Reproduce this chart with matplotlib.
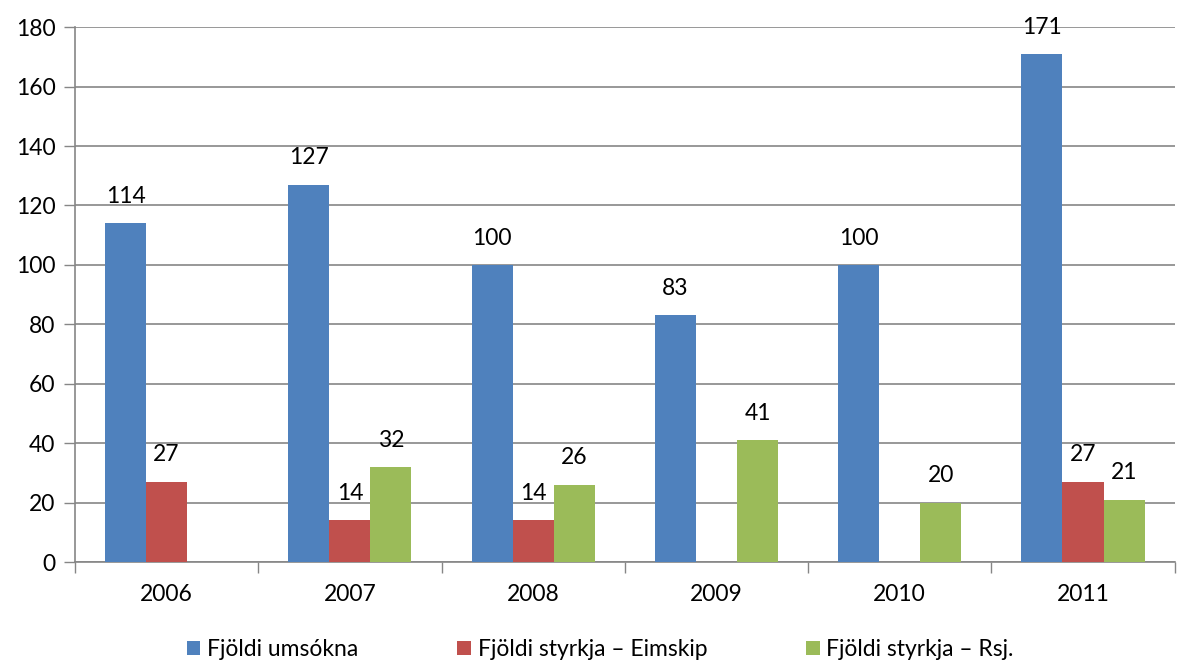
import matplotlib.pyplot as plt
import numpy as np

years = ["2006", "2007", "2008", "2009", "2010", "2011"]
umsokna = [114, 127, 100, 83, 100, 171]
eimskip = [27, 14, 14, None, None, 27]
rsj = [None, 32, 26, 41, 20, 21]

series = [
    ("Fjöldi umsókna", umsokna, "#4F81BD"),
    ("Fjöldi styrkja – Eimskip", eimskip, "#C0504D"),
    ("Fjöldi styrkja – Rsj.", rsj, "#9BBB59"),
]

plt.rcParams['font.family'] = ['Lato', 'DejaVu Sans']
fs = 16.5

fig = plt.figure(figsize=(11.77, 6.64), dpi=100)
ax = fig.add_axes([0.0637, 0.1536, 0.9343, 0.8054])

x = np.arange(len(years))
w = 0.224
for i, (name, vals, color) in enumerate(series):
    xs = [xi + (i - 1) * w for xi, v in zip(x, vals) if v is not None]
    vs = [v for v in vals if v is not None]
    bars = ax.bar(xs, vs, width=w, color=color, label=name, zorder=3)
    for b, v in zip(bars, vs):
        ax.text(b.get_x() + b.get_width() / 2, v + 5.5, str(v),
                ha='center', va='bottom', fontsize=fs, zorder=4)

ax.set_xlim(-0.5, len(years) - 0.5)
ax.set_ylim(0, 180)
ax.set_yticks(range(0, 181, 20))
ax.set_xticks(x)
ax.set_xticklabels(years)
ax.set_xticks(np.arange(-0.5, len(years)), minor=True)
ax.tick_params(axis='x', which='major', length=0, pad=16, labelsize=fs)
ax.tick_params(axis='x', which='minor', length=8, color='#868686', width=1)
ax.tick_params(axis='y', length=8, color='#868686', width=1, labelsize=fs, pad=6)
ax.grid(axis='y', color='#868686', linewidth=1.2, zorder=0)
for s in ['top', 'right']:
    ax.spines[s].set_visible(False)
for s in ['left', 'bottom']:
    ax.spines[s].set_color('#868686')
    ax.spines[s].set_linewidth(1.2)

fig.legend(loc='lower center', bbox_to_anchor=(0.51, -0.025), ncol=3, frameon=False,
           fontsize=fs, handlelength=0.6, handleheight=0.6, handletextpad=0.3,
           columnspacing=4.3)

fig.savefig("out.png", dpi=100)
